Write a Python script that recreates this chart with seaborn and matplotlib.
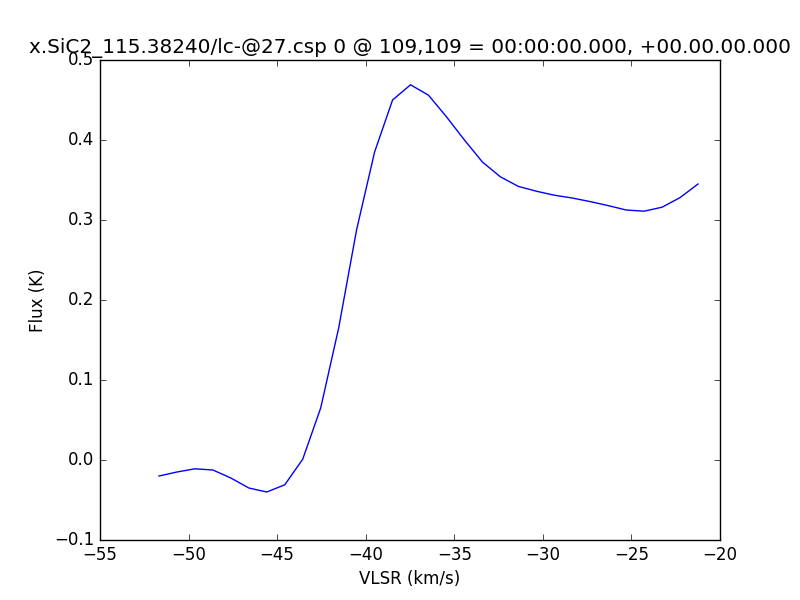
import numpy as np
import pandas as pd
import matplotlib
matplotlib.use("Agg")
import matplotlib.pyplot as plt
import seaborn as sns

# spectrum
vlsr_start = -51.67
vlsr_step = 1.0143
flux = [
    -0.020, -0.015, -0.011, -0.0125, -0.0225, -0.035, -0.040, -0.031,
    0.001, 0.065, 0.165, 0.288, 0.385, 0.450, 0.469, 0.456, 0.429,
    0.400, 0.3725, 0.354, 0.342, 0.336, 0.331, 0.3275, 0.323, 0.318,
    0.3125, 0.311, 0.316, 0.328, 0.345,
]
vlsr = [vlsr_start + i * vlsr_step for i in range(len(flux))]

title = "x.SiC2_115.38240/lc-@27.csp 0 @ 109,109 = 00:00:00.000, +00.00.00.000"


def main():
    plt.style.use("classic")
    plt.rcParams["font.family"] = ["DejaVu Sans"]

    df = pd.DataFrame({"vlsr": vlsr, "flux": flux})

    fig = plt.figure(figsize=(8, 6), dpi=100, facecolor="white")
    ax = fig.add_axes([0.125, 0.1, 0.775, 0.8])
    sns.lineplot(data=df, x="vlsr", y="flux", color="blue", lw=1, ax=ax)

    ax.set_xlim(-55, -20)
    ax.set_ylim(-0.1, 0.5)
    ax.set_xticks(np.arange(-55, -19, 5))
    ax.set_yticks(np.arange(-0.1, 0.51, 0.1))
    ax.set_xlabel("VLSR (km/s)")
    ax.set_ylabel("Flux (K)")
    ax.set_title(title)

    fig.savefig("out.png", dpi=100, facecolor="white")
    plt.close(fig)


if __name__ == "__main__":
    main()
